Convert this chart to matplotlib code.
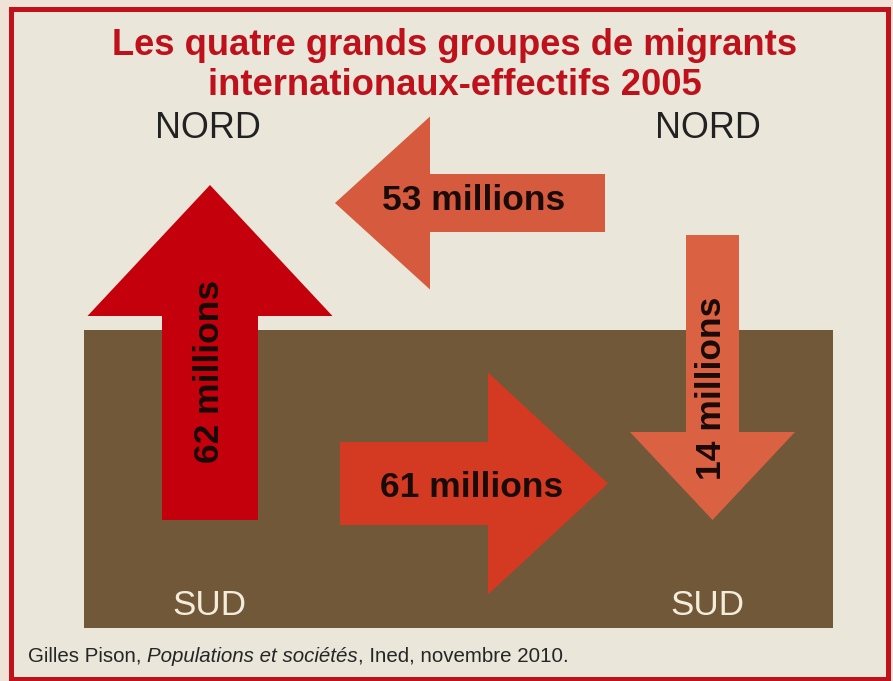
import matplotlib
matplotlib.use("Agg")
import matplotlib.pyplot as plt
from matplotlib.patches import FancyArrow, Rectangle

# ---------------- data ----------------
title_lines = ["Les quatre grands groupes de migrants",
               "internationaux-effectifs 2005"]
flow_names = ["Sud-Nord", "Nord-Nord", "Sud-Sud", "Nord-Sud"]
flow_values = [62, 53, 61, 14]          # millions of migrants
flow_unit = "millions"
region_top = "NORD"
region_bottom = "SUD"
source_parts = [("Gilles Pison, ", "normal"),
                ("Populations et sociétés", "italic"),
                (", Ined, novembre 2010.", "normal")]

# ---------------- layout (pixel space) ----------------
W, H = 893, 681
layout = {
    # x, y, dx, dy, width, head_width, head_length, color, label (x, y), rotation
    "Sud-Nord":  dict(x=210, y=520, dx=0, dy=-335, w=96, hw=245, hl=131,
                      color="#C4000C", lab=(219, 371), rot=90),
    "Nord-Nord": dict(x=605, y=203, dx=-270, dy=0, w=58, hw=173, hl=95,
                      color="#D65A3D", lab=(473.5, 210), rot=0),
    "Sud-Sud":   dict(x=340, y=483.5, dx=268, dy=0, w=83, hw=222, hl=120,
                      color="#D43A22", lab=(471.5, 497), rot=0),
    "Nord-Sud":  dict(x=712.5, y=235, dx=0, dy=285, w=53, hw=165, hl=88,
                      color="#DA6242", lab=(721, 388), rot=90),
}

plt.rcParams["font.family"] = ["Liberation Sans", "DejaVu Sans"]

fig = plt.figure(figsize=(W / 100, H / 100), dpi=100)
fig.patch.set_facecolor("#EFE3D8")
ax = fig.add_axes([0, 0, 1, 1])
ax.set_xlim(0, W)
ax.set_ylim(H, 0)
ax.axis("off")

# frame
ax.add_patch(Rectangle((10.5, 8.5), 877, 670.5, facecolor="#EAE6D9",
                       edgecolor="#C1121B", lw=3.6, zorder=0))
# south block
ax.add_patch(Rectangle((84, 330), 749, 298, facecolor="#715839",
                       edgecolor="none", zorder=1))

# title
for i, line in enumerate(title_lines):
    ax.text(455, 55 + 40 * i, line, ha="center", va="baseline",
            fontsize=26.2, fontweight="bold", color="#BE111B", zorder=5)

# region labels
for xc in (208, 708):
    ax.text(xc, 138, region_top, ha="center", va="baseline", fontsize=25.8,
            color="#222222", zorder=5)
for xc in (209, 707):
    ax.text(xc, 615, region_bottom, ha="center", va="baseline", fontsize=25.2,
            color="#F4ECDA", zorder=5)

# arrows
for name, val in zip(flow_names, flow_values):
    g = layout[name]
    ax.add_patch(FancyArrow(g["x"], g["y"], g["dx"], g["dy"], width=g["w"],
                            head_width=g["hw"], head_length=g["hl"],
                            length_includes_head=True, color=g["color"],
                            lw=0, zorder=3))
    ax.text(g["lab"][0], g["lab"][1], f"{val} {flow_unit}", rotation=g["rot"],
            rotation_mode="anchor", ha="center", va="baseline", fontsize=25.5,
            fontweight="bold", color="#1A0A08", zorder=6)

# source line
prev = ax.text(28, 662, source_parts[0][0], ha="left", va="baseline",
               fontsize=14.8, fontstyle=source_parts[0][1], color="#262626",
               zorder=5)
for txt, style in source_parts[1:]:
    prev = ax.annotate(txt, xy=(1, 0), xycoords=prev, ha="left", va="bottom",
                       fontsize=14.8, fontstyle=style, color="#262626",
                       zorder=5)

fig.savefig("out.png", dpi=100, facecolor=fig.get_facecolor())
